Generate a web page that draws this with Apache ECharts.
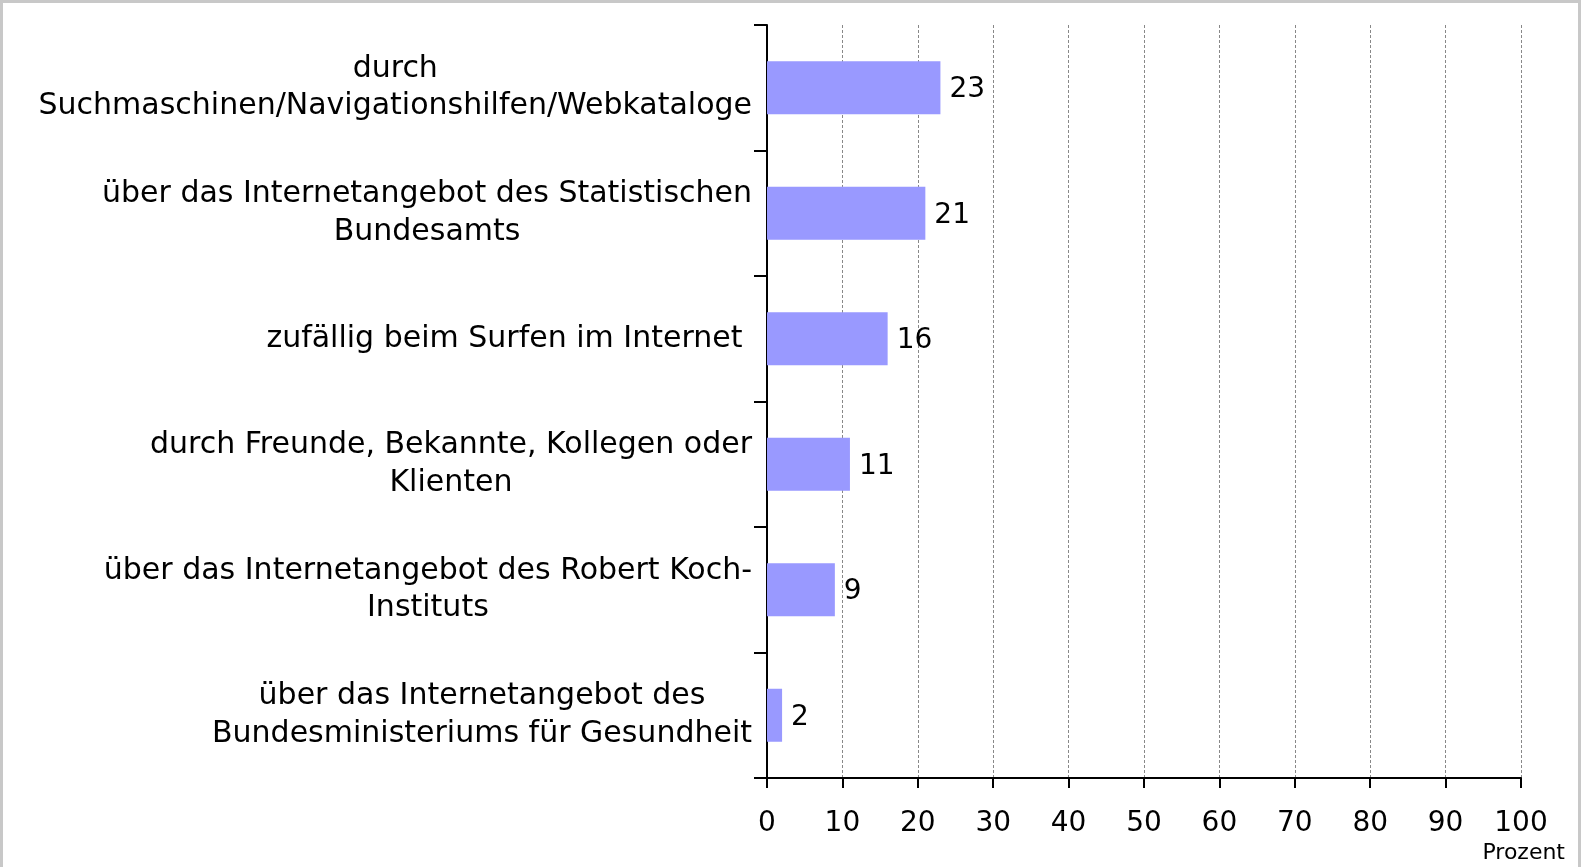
<!DOCTYPE html>
<html>
<head>
<meta charset="utf-8">
<script src="https://cdn.jsdelivr.net/npm/echarts@6/dist/echarts.min.js"></script>
<style>
html,body{margin:0;padding:0;background:#fff;}
#wrap{position:relative;width:1581px;height:867px;}
#chart{position:absolute;left:0;top:0;width:1581px;height:867px;}
#frame{position:absolute;left:0;top:0;width:1581px;height:867px;border-top:3px solid #c8c8c8;border-left:3px solid #c8c8c8;border-right:3px solid #c8c8c8;box-sizing:border-box;pointer-events:none;}
</style>
</head>
<body>
<div id="wrap"><div id="chart"></div><div id="frame"></div></div>
<script>
var categories = [
  "durch\nSuchmaschinen/Navigationshilfen/Webkataloge",
  "über das Internetangebot des Statistischen\nBundesamts",
  "zufällig beim Surfen im Internet ",
  "durch Freunde, Bekannte, Kollegen oder\nKlienten",
  "über das Internetangebot des Robert Koch-\nInstituts",
  "über das Internetangebot des\nBundesministeriums für Gesundheit"
];
var values = [23, 21, 16, 11, 9, 2];
var axisMin = 0, axisMax = 100, axisStep = 10;
var axisUnit = "Prozent";

var FONT = "'DejaVu Sans', 'Liberation Sans', Arial, sans-serif";
var chart = echarts.init(document.getElementById('chart'), null, {renderer: 'canvas'});
chart.setOption({
  animation: false,
  backgroundColor: '#ffffff',
  grid: {left: 767, right: 60, top: 25, bottom: 89, containLabel: false},
  xAxis: {
    type: 'value', min: axisMin, max: axisMax, interval: axisStep,
    axisLine: {show: true, lineStyle: {color: '#000', width: 2}},
    axisTick: {show: true, length: 10, lineStyle: {color: '#000', width: 2}},
    axisLabel: {color: '#000', fontSize: 28, fontFamily: FONT, margin: 32},
    splitLine: {show: true, lineStyle: {color: '#888888', width: 1, type: [3, 2]}}
  },
  yAxis: {
    type: 'category', data: categories, inverse: true,
    axisLine: {show: true, lineStyle: {color: '#000', width: 2}},
    axisTick: {show: true, length: 13, lineStyle: {color: '#000', width: 2}},
    axisLabel: {
      margin: 15, color: '#000', fontFamily: FONT, fontSize: 30, align: 'right',
      formatter: function (v) {
        return v.split('\n').map(function (l) { return '{c|' + l + '}'; }).join('\n');
      },
      rich: {c: {align: 'center', fontSize: 30, fontFamily: FONT, color: '#000', lineHeight: 37.5}}
    },
    splitLine: {show: false}
  },
  series: [{
    type: 'bar', data: values, barWidth: 53,
    itemStyle: {color: '#9999ff'},
    label: {show: true, position: 'right', distance: 9, offset: [0, 2], color: '#000', fontSize: 28, fontFamily: FONT}
  }],
  graphic: [{
    type: 'text', right: 16, bottom: 3,
    style: {text: axisUnit, fontSize: 22, fontFamily: FONT, fill: '#000'}
  }]
});
</script>
</body>
</html>
